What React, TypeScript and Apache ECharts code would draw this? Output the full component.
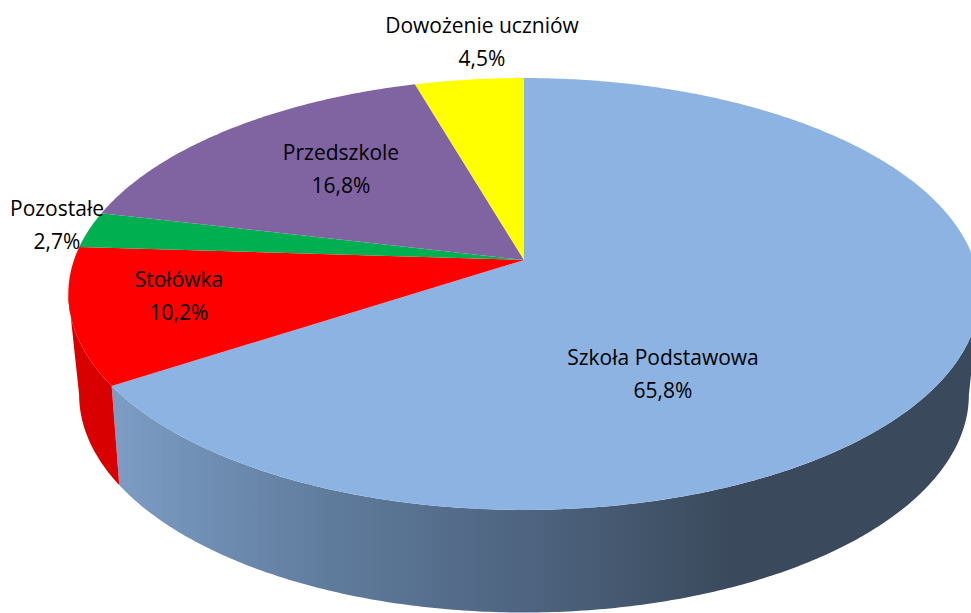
import React, { useEffect, useRef } from "react";
import * as echarts from "echarts";

const categories = ["Szkoła Podstawowa", "Stołówka", "Pozostałe", "Przedszkole", "Dowożenie uczniów"];
const shares = [65.8, 10.2, 2.7, 16.8, 4.5];

const topColors = ["#8DB3E2", "#FF0000", "#00B050", "#8064A2", "#FFFF00"];
const wallColors = ["#3A4A5C", "#D80000", "#009040", "#66508A", "#D8D800"];
const labelCenters = [[663, 373], [179, 295], [57, 224], [341, 168], [482, 41]];

const TOP_PLANE = { k: 0.1574, cx: 524, cy: 260, rx: 450, ry: 210.6 };
const BASE_PLANE = { k: 0.17, cx: 524, cy: 357.7, rx: 438.4, ry: 211.5 };

type Plane = typeof TOP_PLANE;

const total = shares.reduce((a, b) => a + b, 0);
const toAngle = (v: number) => (v / total) * Math.PI * 2;

function sliceRange(index: number) {
  let acc = 0;
  for (let i = 0; i < index; i++) acc += shares[i];
  return [toAngle(acc), toAngle(acc + shares[index])];
}

function rimPoint(angle: number, p: Plane) {
  const u = Math.sin(angle);
  const v = -Math.cos(angle);
  const d = 1 - p.k * v;
  return [p.cx + (p.rx * u) / d, p.cy + (p.ry * v) / d];
}

function rimArc(a0: number, a1: number, p: Plane) {
  const n = Math.max(2, Math.ceil((a1 - a0) / 0.01));
  const pts: number[][] = [];
  for (let i = 0; i <= n; i++) pts.push(rimPoint(a0 + ((a1 - a0) * i) / n, p));
  return pts;
}

// The part of a rim facing the viewer runs between its two widest points.
function visibleRange(a0: number, a1: number, p: Plane) {
  const right = Math.acos(-p.k);
  const left = Math.PI * 2 - right;
  return [Math.max(a0, right), Math.min(a1, left)];
}

const wallFill = (i: number) =>
  i === 0
    ? new echarts.graphic.LinearGradient(
        118, 0, 730, 0,
        [
          { offset: 0, color: "#7C9CC4" },
          { offset: 0.35, color: "#5F7B9C" },
          { offset: 0.72, color: "#4B607B" },
          { offset: 1, color: "#3A4A5C" },
        ],
        true
      )
    : wallColors[i];

function renderWall(params: any) {
  const i = params.dataIndex;
  const [a0, a1] = sliceRange(i);
  const [t0, t1] = visibleRange(a0, a1, TOP_PLANE);
  const [b0, b1] = visibleRange(a0, a1, BASE_PLANE);
  if (t1 <= t0 || b1 <= b0) return null;
  const pts = rimArc(t0, t1, TOP_PLANE).concat(rimArc(b0, b1, BASE_PLANE).reverse());
  return { type: "polygon", shape: { points: pts }, style: { fill: wallFill(i) } };
}

function renderTop(params: any) {
  const i = params.dataIndex;
  const [a0, a1] = sliceRange(i);
  const pts = [[TOP_PLANE.cx, TOP_PLANE.cy]].concat(rimArc(a0, a1, TOP_PLANE));
  return { type: "polygon", shape: { points: pts }, style: { fill: topColors[i] } };
}

function renderLabel(params: any, api: any) {
  const i = params.dataIndex;
  const [x, y] = labelCenters[i];
  const pct = api.value(0).toFixed(1).replace(".", ",") + "%";
  return {
    type: "text",
    x,
    y,
    style: {
      text: categories[i] + "\n" + pct,
      fill: "#000000",
      fontFamily: "Open Sans",
      fontSize: 21,
      lineHeight: 33,
      align: "center",
      verticalAlign: "middle",
    },
  };
}

export default function App() {
  const ref = useRef<HTMLDivElement>(null);
  useEffect(() => {
    const chart = echarts.init(ref.current!, undefined, { renderer: "svg" });
    chart.setOption({
      animation: false,
      backgroundColor: "#ffffff",
      series: [
        { type: "custom", coordinateSystem: "none", z: 1, data: shares, renderItem: renderWall, silent: true },
        { type: "custom", coordinateSystem: "none", z: 2, data: shares, renderItem: renderTop, silent: true },
        { type: "custom", coordinateSystem: "none", z: 3, data: shares, renderItem: renderLabel, silent: true },
      ],
    });
    return () => chart.dispose();
  }, []);
  return <div ref={ref} style={{ position: "absolute", left: 0, top: 0, width: 971, height: 613 }} />;
}
